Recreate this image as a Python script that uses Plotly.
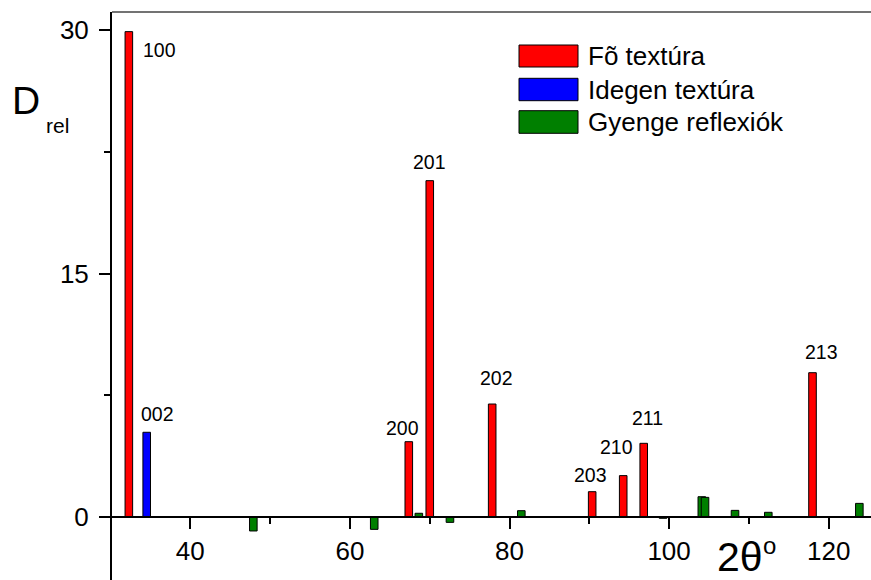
import plotly.graph_objects as go

# ---------------- data ----------------
series_names = ["Fõ textúra", "Idegen textúra", "Gyenge reflexiók"]

fo_x = [32.3, 67.38, 70.01, 77.83, 90.36, 94.25, 96.82, 117.97]
fo_y = [29.9, 4.64, 20.72, 6.96, 1.56, 2.55, 4.54, 8.89]
fo_labels = ["100", "200", "201", "202", "203", "210", "211", "213"]

idegen_x = [34.54]
idegen_y = [5.22]
idegen_labels = ["002"]

gyenge_x = [47.9, 63.05, 68.64, 72.54, 81.48, 99.24, 104.1, 104.5, 108.26, 112.43, 123.84]
gyenge_y = [-0.86, -0.76, 0.23, -0.33, 0.39, -0.08, 1.25, 1.21, 0.41, 0.29, 0.84]

x_ticks = [40, 60, 80, 100, 120]
y_ticks = [0, 15, 30]

# ---------------- layout constants ----------------
W, H = 871, 580
ML, MR, MT, MB = 112, 0, 12, 0
X_RANGE = [30.19, 125.30]
Y_RANGE = [-3.88, 31.11]
FONT = "Arial, Liberation Sans, sans-serif"
colors = ["#FF0000", "#0000FF", "#007F00"]
BAR_W = 0.95

def px_to_paper(px, py):
    return (px - ML) / (W - ML - MR), (H - MB - py) / (H - MT - MB)

fig = go.Figure()
for xs, ys, name, col in [(fo_x, fo_y, series_names[0], colors[0]),
                          (idegen_x, idegen_y, series_names[1], colors[1]),
                          (gyenge_x, gyenge_y, series_names[2], colors[2])]:
    fig.add_trace(go.Bar(x=xs, y=ys, name=name, width=BAR_W,
                         marker=dict(color=col, line=dict(color="black", width=1)),
                         showlegend=False))

# peak labels (offsets in pixels relative to bar top)
fo_offsets = [(30.5, -18), (-6, 13.7), (0, 19), (4, 26), (-2, 16.7), (-6.4, 29), (4, 25), (9.3, 21)]
idegen_offsets = [(11, 18.5)]
annotations = []
for xs, ys, labs, offs in [(fo_x, fo_y, fo_labels, fo_offsets),
                           (idegen_x, idegen_y, idegen_labels, idegen_offsets)]:
    for xv, yv, lab, (dx, dy) in zip(xs, ys, labs, offs):
        annotations.append(dict(x=xv, y=yv, xref="x", yref="y", text=lab, showarrow=False,
                                xanchor="center", yanchor="middle", xshift=dx, yshift=dy,
                                font=dict(family=FONT, size=19.5, color="black")))

# axis titles
px, py = px_to_paper(26.3, 101)
annotations.append(dict(x=px, y=py, xref="paper", yref="paper", text="D", showarrow=False,
                        xanchor="center", yanchor="middle", font=dict(family=FONT, size=39, color="black")))
px, py = px_to_paper(57, 125)
annotations.append(dict(x=px, y=py, xref="paper", yref="paper", text="rel", showarrow=False,
                        xanchor="center", yanchor="middle", font=dict(family=FONT, size=21, color="black")))
px, py = px_to_paper(739.5, 557)
annotations.append(dict(x=px, y=py, xref="paper", yref="paper", text="2θ", showarrow=False,
                        xanchor="center", yanchor="middle", font=dict(family=FONT, size=41, color="black")))
px, py = px_to_paper(769, 545)
annotations.append(dict(x=px, y=py, xref="paper", yref="paper", text="o", showarrow=False,
                        xanchor="center", yanchor="middle", font=dict(family=FONT, size=24, color="black")))

# manual legend
shapes = []
sw_rows = [(45, 67), (78.3, 100.7), (110.7, 133.3)]
for name, col, (y0p, y1p) in zip(series_names, colors, sw_rows):
    x0, y0 = px_to_paper(519, y1p)
    x1, y1 = px_to_paper(578, y0p)
    shapes.append(dict(type="rect", xref="paper", yref="paper", x0=x0, x1=x1, y0=y0, y1=y1,
                       fillcolor=col, line=dict(color="black", width=1)))
    tx, ty = px_to_paper(586, (y0p + y1p) / 2)
    annotations.append(dict(x=tx, y=ty, xref="paper", yref="paper", text=name, showarrow=False,
                            xanchor="left", yanchor="middle", font=dict(family=FONT, size=26, color="black")))

# top frame line
shapes.append(dict(type="line", xref="paper", yref="paper", x0=0, x1=1, y0=1, y1=1,
                   line=dict(color="#444444", width=1.5)))

zero_pos = (0 - Y_RANGE[0]) / (Y_RANGE[1] - Y_RANGE[0])

fig.update_layout(
    width=W, height=H,
    margin=dict(l=ML, r=MR, t=MT, b=MB, pad=0),
    paper_bgcolor="white", plot_bgcolor="white",
    barmode="overlay",
    showlegend=False,
    font=dict(family=FONT, color="black"),
    xaxis=dict(range=X_RANGE, anchor="free", position=zero_pos,
               showline=True, linecolor="black", linewidth=2,
               ticks="outside", ticklen=11, tickwidth=2, tickcolor="black",
               tickvals=x_ticks, ticktext=[str(v) for v in x_ticks],
               tickfont=dict(family=FONT, size=26, color="black"),
               minor=dict(ticks="outside", ticklen=6, tickwidth=2, tickcolor="black", dtick=10, tick0=0),
               showgrid=False, zeroline=False),
    yaxis=dict(range=Y_RANGE, anchor="x",
               showline=True, linecolor="black", linewidth=2,
               ticks="outside", ticklen=11, tickwidth=2, tickcolor="black",
               tickvals=y_ticks, ticktext=[str(v) for v in y_ticks],
               tickfont=dict(family=FONT, size=26, color="black"),
               ticklabelstandoff=5,
               minor=dict(ticks="outside", ticklen=6, tickwidth=2, tickcolor="black", dtick=7.5, tick0=0),
               showgrid=False, zeroline=False),
    annotations=annotations,
    shapes=shapes,
)

fig.write_html("out.html",
               config={"displayModeBar": False},
               post_script="document.body.style.margin='0';document.body.style.padding='0';")
